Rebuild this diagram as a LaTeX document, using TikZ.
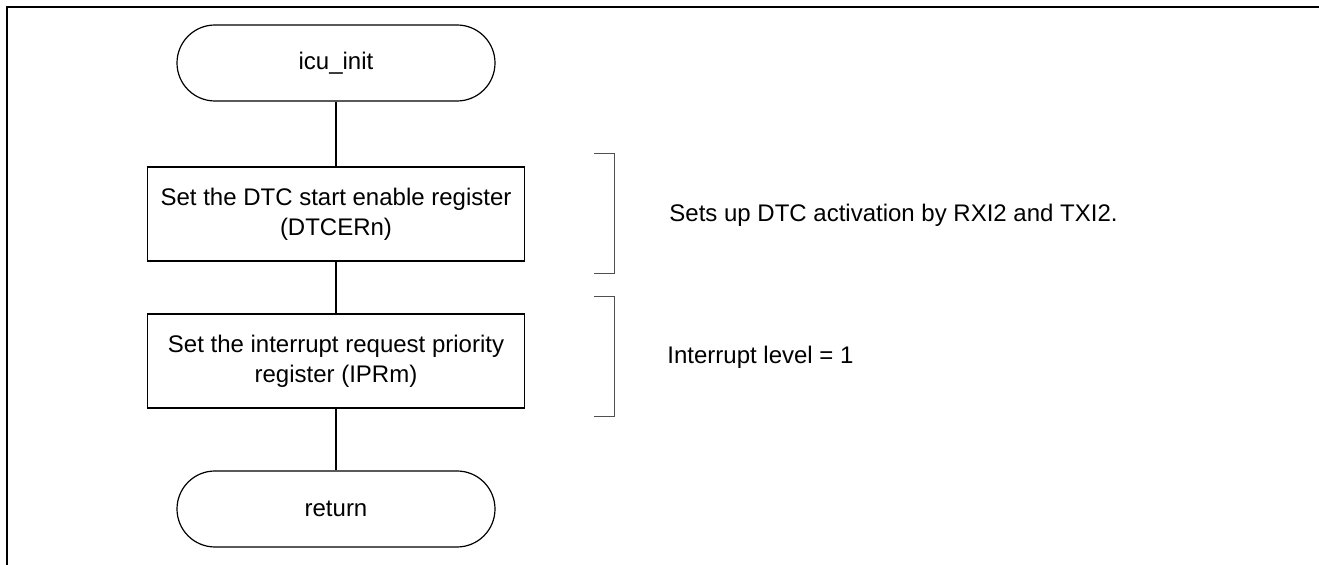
\documentclass[tikz,border=0pt]{standalone}
\usepackage{fontspec}
\setmainfont{Liberation Sans}
\usepackage{tikz}
\usetikzlibrary{shapes}
\definecolor{bracketgray}{RGB}{80,80,80}
\tikzset{
    terminal/.style={draw,line width=0.6pt,rounded corners=19pt,minimum width=159pt,minimum height=38pt,inner sep=0pt},
    process/.style={draw,line width=0.6pt,minimum width=188.5pt,minimum height=47pt,inner sep=0pt,align=center},
    flow/.style={line width=0.6pt},
    bracket/.style={bracketgray,line width=0.5pt},
    note/.style={anchor=west,inner sep=0pt}
}

\begin{document}
\begin{tikzpicture}[x=0.5pt,y=-0.5pt,font=\fontsize{12pt}{15pt}\selectfont]
        \useasboundingbox (0,0) rectangle (1319,565);
        \draw[line width=1pt] (7,565) -- (7,7) -- (1319,7);

        \node[terminal] (start) at (336,63) {icu\_init};
        \node[process] (dtcer) at (336,214) {Set the DTC start enable register\\(DTCERn)};
        \node[process] (ipr) at (336,361) {Set the interrupt request priority\\register (IPRm)};
        \node[terminal] (ret) at (336,509) {return};

        \draw[flow] (start) -- (dtcer);
        \draw[flow] (dtcer) -- (ipr);
        \draw[flow] (ipr) -- (ret);

        \draw[bracket] (594,154) -| (614,274) -- (594,274);
        \draw[bracket] (594,297) -| (614,417) -- (594,417);
        \node[note] (dtcnote) at (669,215) {Sets up DTC activation by RXI2 and TXI2.};
        \node[note] (iprnote) at (667,357) {Interrupt level = 1};
    \end{tikzpicture}
\end{document}
